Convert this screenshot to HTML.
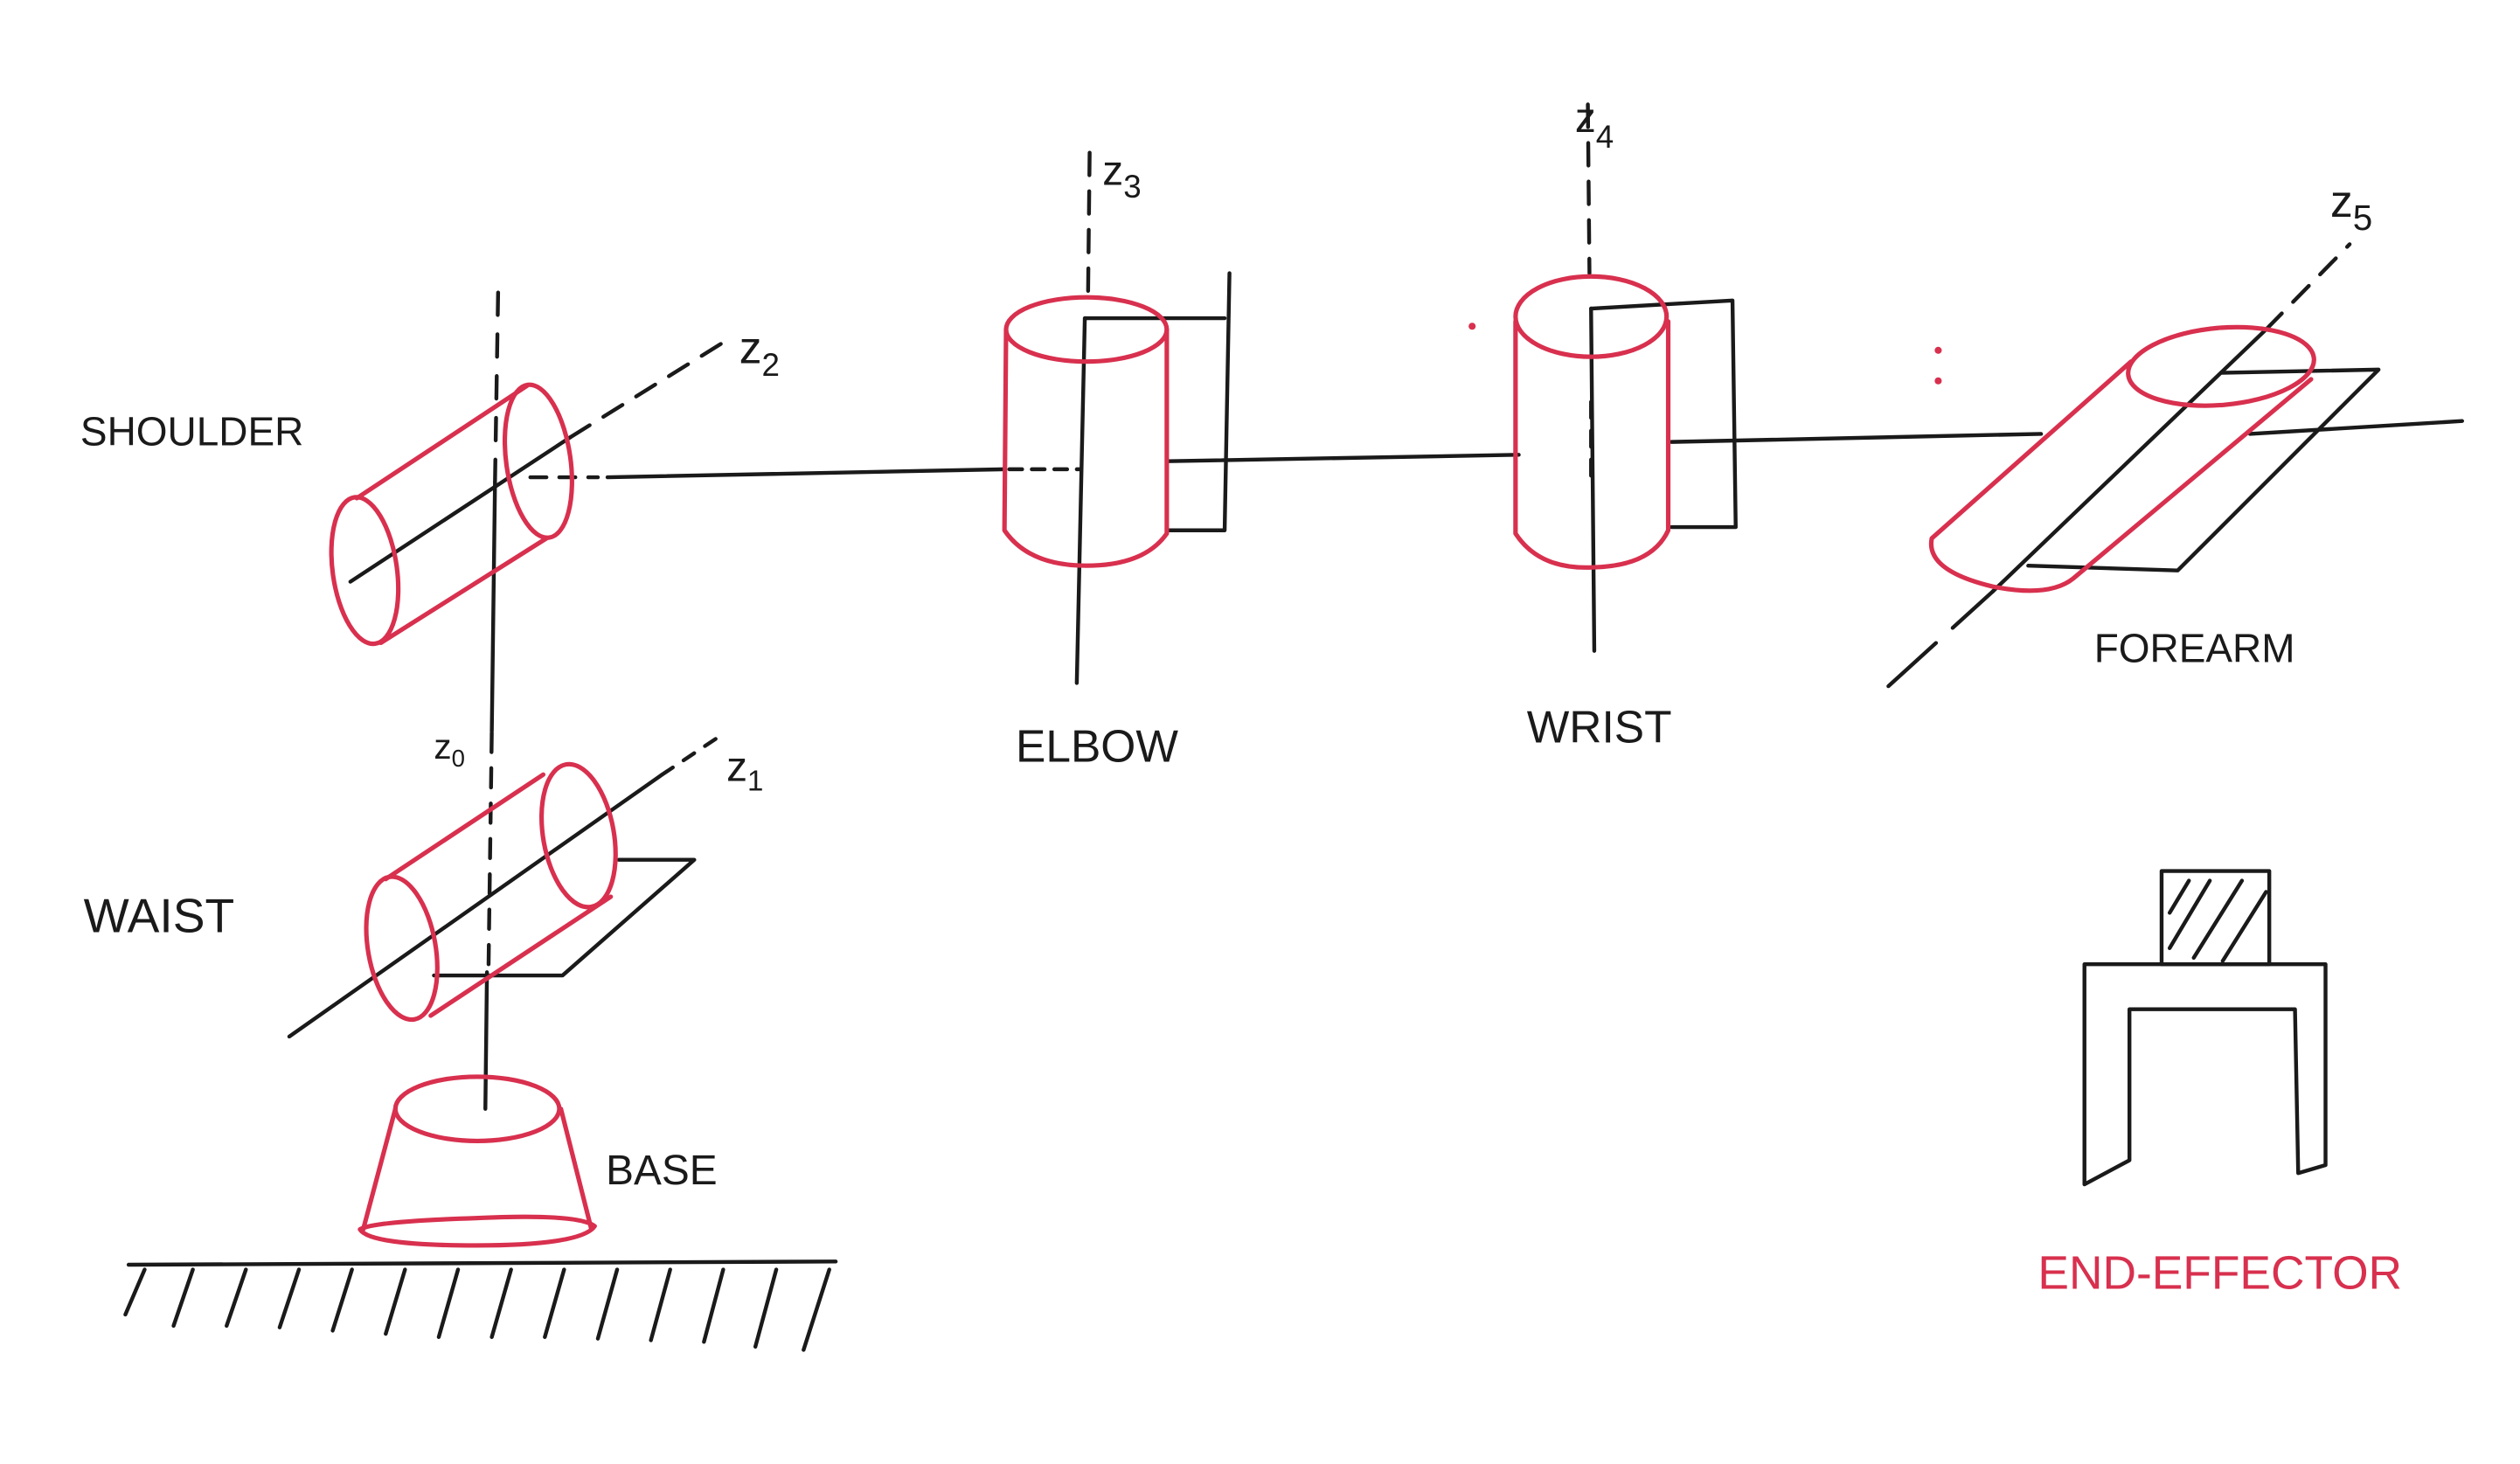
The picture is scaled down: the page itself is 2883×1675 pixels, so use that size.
<!DOCTYPE html>
<html><head><meta charset="utf-8"><style>
html,body{margin:0;padding:0;background:#fff;}
svg{display:block;}
text{font-family:"Liberation Sans",sans-serif;}
</style></head><body>
<svg width="2883" height="1675" viewBox="0 0 1568 911" xmlns="http://www.w3.org/2000/svg" fill="none" stroke-linecap="round" stroke-linejoin="round">
<rect width="1568" height="911" fill="#fff" stroke="none"/>
<g stroke="#1a1a1a" stroke-width="2.4">
 <!-- ground -->
 <g>
  <line x1="80" y1="787" x2="520" y2="785"/>
  <path d="M90 790 L78 818 M120 790 L108 825 M153 790 L141 825 M186 790 L174 826 M219 790 L207 828 M252 790 L240 830 M285 790 L273 832 M318 790 L306 832 M351 790 L339 832 M384 790 L372 833 M417 790 L405 834 M450 790 L438 835 M483 790 L470 838 M516 790 L500 840"/>
 </g>
 <!-- z0 axis -->
 <g>
  <line x1="302" y1="690" x2="303" y2="605"/>
  <line x1="304" y1="600" x2="306" y2="455" stroke-dasharray="12 10"/>
  <line x1="306" y1="455" x2="308" y2="300"/>
  <line x1="308" y1="300" x2="310" y2="178" stroke-dasharray="14 12"/>
 </g>
 <!-- waist axis & plane -->
 <g>
  <line x1="180" y1="645" x2="412" y2="482"/>
  <line x1="412" y1="482" x2="448" y2="458" stroke-dasharray="8 8"/>
  <path d="M270 607 L350 607 L432 535 L385 535"/>
 </g>
 <!-- shoulder axis -->
 <g>
  <line x1="218" y1="362" x2="355" y2="272"/>
  <line x1="355" y1="272" x2="455" y2="210" stroke-dasharray="14 10"/>
  <line x1="330" y1="297" x2="372" y2="297" stroke-dasharray="10 8"/>
 </g>
 <line x1="378" y1="297" x2="625" y2="292"/>
 <line x1="628" y1="292" x2="672" y2="292" stroke-dasharray="8 6"/>
 <!-- elbow -->
 <g>
  <line x1="678" y1="95" x2="677" y2="185" stroke-dasharray="14 10"/>
  <line x1="675" y1="198" x2="670" y2="425"/>
  <path d="M675 198 L762 198 M765 170 L762 330 L726 330"/>
  <line x1="726" y1="287" x2="945" y2="283"/>
 </g>
 <!-- wrist -->
 <g>
  <line x1="988" y1="65" x2="989" y2="170" stroke-dasharray="14 10"/>
  <line x1="990" y1="192" x2="992" y2="405"/>
  <line x1="990" y1="250" x2="990" y2="300" stroke-dasharray="10 8"/>
  <path d="M990 192 L1078 187 L1080 328 L1040 328"/>
  <line x1="1040" y1="275" x2="1270" y2="270"/>
 </g>
 <!-- forearm -->
 <g>
  <line x1="1175" y1="427" x2="1240" y2="368" stroke-dasharray="40 14"/>
  <line x1="1240" y1="368" x2="1410" y2="205"/>
  <line x1="1410" y1="205" x2="1462" y2="152" stroke-dasharray="14 10"/>
  <path d="M1382 232 L1480 230 L1355 355 L1262 352"/>
  <line x1="1400" y1="270" x2="1532" y2="262"/>
 </g>
 <!-- end effector -->
 <g>
  <rect x="1345" y="542" width="67" height="58"/>
  <path d="M1350 590 L1375 548 M1365 596 L1395 548 M1383 598 L1410 555 M1350 568 L1362 548"/>
  <path d="M1297 737 L1297 600 L1447 600 L1447 725 L1430 730 L1428 628 L1325 628 L1325 722 L1297 737"/>
 </g>
</g>
<!-- red parts -->
<g stroke="#d8304e" stroke-width="2.8">
 <g>
  <ellipse cx="297" cy="690" rx="51" ry="20"/>
  <path d="M246 690 L226 765 M349 690 L368 765"/>
  <path d="M224 765 Q230 775 296 775 Q362 775 370 763 Q360 755 296 758 Q232 760 224 765"/>
 </g>
 <g>
  <ellipse cx="250" cy="590" rx="21" ry="45" transform="rotate(-10 250 590)"/>
  <ellipse cx="360" cy="520" rx="22" ry="45" transform="rotate(-10 360 520)"/>
  <path d="M240 547 L338 482 M268 632 L380 558"/>
 </g>
 <g>
  <ellipse cx="227" cy="355" rx="20" ry="46" transform="rotate(-8 227 355)"/>
  <ellipse cx="335" cy="287" rx="20" ry="48" transform="rotate(-8 335 287)"/>
  <path d="M222 310 L328 240 M237 400 L340 335"/>
 </g>
 <g>
  <ellipse cx="676" cy="205" rx="50" ry="20"/>
  <path d="M626 205 L625 330 Q640 352 676 352 Q712 352 726 332 L726 205"/>
 </g>
 <g>
  <ellipse cx="990" cy="197" rx="47" ry="25"/>
  <path d="M943 200 L943 332 Q958 355 992 353 Q1028 352 1038 330 L1038 200"/>
 </g>
 <g>
  <ellipse cx="1382" cy="228" rx="58" ry="24" transform="rotate(-5 1382 228)"/>
  <path d="M1326 225 L1202 335 Q1198 355 1240 365 Q1275 372 1290 360 L1438 236"/>
 </g>
 <g stroke="none" fill="#d8304e">
  <circle cx="916" cy="203" r="2.2"/><circle cx="1206" cy="218" r="2.2"/><circle cx="1206" cy="237" r="2.2"/>
 </g>
</g>
<!-- labels -->
<g fill="#1a1a1a" stroke="none" font-size="27">
 <text x="50" y="277" font-size="25">SHOULDER</text>
 <text x="52" y="580" font-size="30">WAIST</text>
 <text x="377" y="737" font-size="26">BASE</text>
 <text x="632" y="474" font-size="28">ELBOW</text>
 <text x="950" y="462" font-size="28">WRIST</text>
 <text x="1303" y="412" font-size="25">FOREARM</text>
 <text x="270" y="472" font-size="22">z<tspan font-size="15" dy="5">0</tspan></text>
 <text x="452" y="486" font-size="26">z<tspan font-size="18" dy="6">1</tspan></text>
 <text x="460" y="226" font-size="28">z<tspan font-size="20" dy="8">2</tspan></text>
 <text x="686" y="115" font-size="26">z<tspan font-size="20" dy="8">3</tspan></text>
 <text x="980" y="82" font-size="26">z<tspan font-size="20" dy="10">4</tspan></text>
 <text x="1450" y="135" font-size="28">z<tspan font-size="22" dy="8">5</tspan></text>
 <text x="1268" y="802" font-size="29" fill="#d8304e">END-EFFECTOR</text>
</g>
</svg>
</body></html>
